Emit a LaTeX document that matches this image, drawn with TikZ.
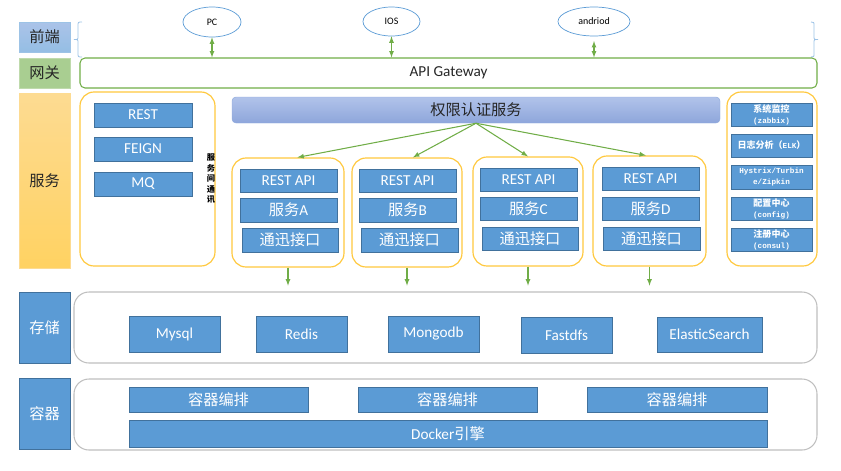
\documentclass[tikz,border=0pt]{standalone}
\usepackage{fontspec}
\setmainfont{Carlito}
\newfontfamily\cjk{Noto Sans CJK SC}
\newfontfamily\monofont[Scale=0.85]{Liberation Mono}
\usetikzlibrary{shapes.geometric}

\definecolor{boxblue}{HTML}{5B9BD5}
\definecolor{boxedge}{HTML}{41719C}
\definecolor{linkgreen}{HTML}{70AD47}
\definecolor{ringyellow}{HTML}{FFC83D}
\definecolor{framegrey}{HTML}{BFBFBF}
\definecolor{braceblue}{HTML}{9DC3E6}
\definecolor{textdark}{HTML}{262626}
\definecolor{authtop}{HTML}{B1C3EA}
\definecolor{authbot}{HTML}{8EA6DB}
\definecolor{authedge}{HTML}{8FAADC}
\definecolor{svctop}{HTML}{FDDB92}
\definecolor{svcbot}{HTML}{FFD262}

\begin{document}
\begin{tikzpicture}[x=0.03cm,y=-0.03cm,>=latex,
		blk/.style={draw=boxedge,fill=boxblue,text=white,line width=0.6pt,inner sep=0pt,
			font=\fontsize{13}{15}\selectfont},
		sidebox/.style={blk,align=center,font=\fontsize{7.7}{9.4}\selectfont\bfseries},
		ring/.style={draw=ringyellow,line width=1pt,rounded corners=0.42cm,inner sep=0pt},
		layerframe/.style={draw=framegrey,line width=0.9pt,rounded corners=0.45cm,inner sep=0pt},
		client/.style={ellipse,draw=boxblue,line width=0.6pt,inner sep=0pt,
			font=\fontsize{8.5}{10}\selectfont},
		gate/.style={draw=linkgreen,line width=0.9pt,rounded corners=0.15cm,inner sep=0pt,
			text=textdark,font=\fontsize{13}{15}\selectfont},
		authbar/.style={draw=authedge,top color=authtop,bottom color=authbot,rounded corners=0.12cm,
			inner sep=0pt,text=textdark,font=\fontsize{13}{15}\selectfont},
		layer/.style={inner sep=0pt,line width=0.6pt,text=textdark,font=\cjk\fontsize{13}{15}\selectfont},
		link/.style={linkgreen,line width=0.9pt},
		]
		
		\useasboundingbox (0,0) rectangle (841,470);
		
		% A box from (x1,y1) to (x2,y2), given in pixels: style, name, x1, y1, x2, y2, text
		\newcommand{\blkat}[7]{%
			\node[#1,minimum width={(#5-#3)*0.03cm},minimum height={(#6-#4)*0.03cm}]
			(#2) at ({(#3+#5)/2},{(#4+#6)/2}) {#7};
		}
		
		% Layer labels on the left
		\blkat{layer,draw=braceblue,top color=authtop!70!braceblue,bottom color=boxblue!65}{frontlbl}{19}{22}{70}{52}{前端}
		\blkat{layer,draw=linkgreen!45,fill=linkgreen!60}{gwlbl}{19}{58}{70}{88}{网关}
		\blkat{layer,draw=svctop,top color=svctop,bottom color=svcbot}{svclbl}{19}{93}{70}{268}{服务}
		\blkat{blk,font=\cjk\fontsize{13}{15}\selectfont}{storelbl}{19}{292}{70}{363}{存储}
		\blkat{blk,font=\cjk\fontsize{13}{15}\selectfont}{rtlbl}{19}{378}{70}{449}{容器}
		
		% Clients and the double brace round them
		\blkat{client}{pc}{183}{7}{241}{37}{PC}
		\blkat{client}{ios}{363}{7}{420}{36}{IOS}
		\blkat{client}{android}{558}{7}{630}{36}{andriod}
		\draw[braceblue,line width=0.7pt] (82,22) .. controls (78,22) .. (78,26) -- (78,36)
		.. controls (78,39.5) .. (74,39.5) .. controls (78,39.5) .. (78,43) -- (78,53)
		.. controls (78,57) .. (82,57);
		\draw[braceblue,line width=0.7pt] (811,22) .. controls (814,22) .. (814,26) -- (814,36)
		.. controls (814,39.5) .. (818,39.5) .. controls (814,39.5) .. (814,43) -- (814,53)
		.. controls (814,57) .. (811,57);
		
		% Gateway
		\blkat{gate}{gw}{80}{58}{817}{88}{API Gateway}
		\draw[link,<->] (pc.south) -- (pc.south |- gw.north);
		\draw[link,<->] (ios.south) -- (ios.south |- gw.north);
		\draw[link,<->] ([yshift=-4pt]android.south) -- (android.south |- gw.north);
		
		% Communication between services
		\blkat{ring}{comm}{80}{92}{215}{266}{}
		\blkat{blk}{rest}{94}{103}{192}{127}{REST}
		\blkat{blk}{feign}{94}{137}{192}{161}{FEIGN}
		\blkat{blk}{mq}{94}{172}{192}{196}{MQ}
		\node[inner sep=0pt,align=center,font=\cjk\fontsize{7}{9}\selectfont\bfseries] (commtxt)
		at (211,179) {服\\务\\间\\通\\讯};
		
		% Authorization and the four services
		\blkat{authbar}{auth}{232}{97}{720}{123}{{\cjk 权限认证服务}}
		
		\blkat{ring}{svcA}{232}{158}{344}{267}{}
		\blkat{blk}{apiA}{240}{169}{337}{192}{REST API}
		\blkat{blk}{nameA}{240}{198}{337}{222}{{\cjk 服务}A}
		\blkat{blk}{portA}{242}{228}{338}{252}{{\cjk 通迅接口}}
		
		\blkat{ring}{svcB}{352}{158}{462}{267}{}
		\blkat{blk}{apiB}{359}{169}{456}{192}{REST API}
		\blkat{blk}{nameB}{359}{198}{456}{222}{{\cjk 服务}B}
		\blkat{blk}{portB}{361}{228}{458}{252}{{\cjk 通迅接口}}
		
		\blkat{ring}{svcC}{473}{157}{583}{266}{}
		\blkat{blk}{apiC}{480}{168}{577}{191}{REST API}
		\blkat{blk}{nameC}{480}{197}{577}{220}{{\cjk 服务}C}
		\blkat{blk}{portC}{482}{227}{578}{250}{{\cjk 通迅接口}}
		
		\blkat{ring}{svcD}{593}{156}{706}{266}{}
		\blkat{blk}{apiD}{602}{167}{699}{190}{REST API}
		\blkat{blk}{nameD}{602}{197}{699}{220}{{\cjk 服务}D}
		\blkat{blk}{portD}{603}{227}{700}{250}{{\cjk 通迅接口}}
		
		\draw[link,->] (auth.south) -- ([xshift=8pt]svcA.north);
		\draw[link,->] (auth.south) -- ([xshift=5pt]svcB.north);
		\draw[link,->] (auth.south) -- (svcC.north);
		\draw[link,->] (auth.south) -- ([xshift=-3pt]svcD.north);
		
		% Operations column
		\blkat{ring}{ops}{727}{92}{817}{266}{}
		\blkat{sidebox}{monitor}{731}{103}{812}{126}{{\cjk 系统监控}\\{\monofont (zabbix)}}
		\blkat{sidebox}{logs}{731}{134}{812}{157}{{\cjk 日志分析（}{\monofont ELK}{\cjk ）}}
		\blkat{sidebox}{trace}{731}{165}{812}{189}{{\monofont Hystrix/Turbin}\\{\monofont e/Zipkin}}
		\blkat{sidebox}{config}{731}{197}{812}{220}{{\cjk 配置中心}\\{\monofont (config)}}
		\blkat{sidebox}{registry}{731}{228}{812}{251}{{\cjk 注册中心}\\{\monofont (consul)}}
		
		% Storage
		\blkat{layerframe}{store}{74}{292}{817}{363}{}
		\blkat{blk}{mysql}{129}{316}{220}{352}{Mysql}
		\blkat{blk}{redis}{256}{316}{347}{352}{Redis}
		\blkat{blk}{mongo}{388}{316}{479}{352}{Mongodb}
		\blkat{blk}{fastdfs}{521}{317}{612}{353}{Fastdfs}
		\blkat{blk}{elastic}{657}{317}{762}{352}{ElasticSearch}
		
		\draw[link,->,shorten >=5pt] (svcA.south) -- (svcA.south |- store.north);
		\draw[link,->,shorten >=5pt] (svcB.south) -- (svcB.south |- store.north);
		\draw[link,->,shorten >=5pt] (svcC.south) -- (svcC.south |- store.north);
		\draw[link,->,shorten >=5pt] (svcD.south) -- (svcD.south |- store.north);
		
		% Containers
		\blkat{layerframe}{runtime}{74}{379}{817}{450}{}
		\blkat{blk}{orchA}{129}{387}{308}{412}{{\cjk 容器编排}}
		\blkat{blk}{orchB}{358}{387}{537}{412}{{\cjk 容器编排}}
		\blkat{blk}{orchC}{587}{387}{767}{412}{{\cjk 容器编排}}
		\blkat{blk}{docker}{129}{420}{767}{447}{Docker{\cjk 引擎}}
	\end{tikzpicture}
\end{document}
